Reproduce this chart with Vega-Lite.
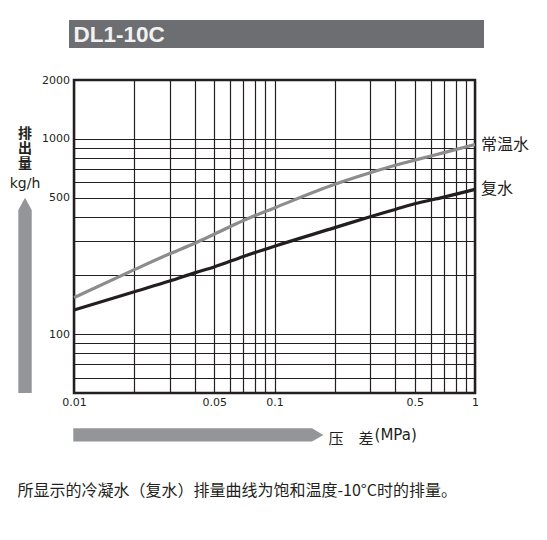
{
  "$schema": "https://vega.github.io/schema/vega-lite/v6.json",
  "width": 401,
  "height": 313,
  "autosize": {"type": "none"},
  "padding": {"left": 74, "top": 80, "right": 72, "bottom": 147},
  "background": "white",
  "data": {
    "values": [
      {"p": 0.01, "q": 154, "s": "常温水"},
      {"p": 0.02, "q": 214, "s": "常温水"},
      {"p": 0.03, "q": 258, "s": "常温水"},
      {"p": 0.04, "q": 292, "s": "常温水"},
      {"p": 0.05, "q": 325, "s": "常温水"},
      {"p": 0.07, "q": 382, "s": "常温水"},
      {"p": 0.1, "q": 443, "s": "常温水"},
      {"p": 0.2, "q": 585, "s": "常温水"},
      {"p": 0.3, "q": 670, "s": "常温水"},
      {"p": 0.4, "q": 732, "s": "常温水"},
      {"p": 0.5, "q": 778, "s": "常温水"},
      {"p": 0.7, "q": 850, "s": "常温水"},
      {"p": 1, "q": 935, "s": "常温水"},
      {"p": 0.01, "q": 133, "s": "复水"},
      {"p": 0.02, "q": 165, "s": "复水"},
      {"p": 0.03, "q": 187, "s": "复水"},
      {"p": 0.04, "q": 206, "s": "复水"},
      {"p": 0.05, "q": 221, "s": "复水"},
      {"p": 0.07, "q": 250, "s": "复水"},
      {"p": 0.1, "q": 282, "s": "复水"},
      {"p": 0.2, "q": 351, "s": "复水"},
      {"p": 0.3, "q": 399, "s": "复水"},
      {"p": 0.4, "q": 435, "s": "复水"},
      {"p": 0.5, "q": 465, "s": "复水"},
      {"p": 0.7, "q": 503, "s": "复水"},
      {"p": 1, "q": 551, "s": "复水"}
    ]
  },
  "layer": [
    {
      "mark": {"type": "line", "strokeWidth": 3.2, "interpolate": "monotone"},
      "encoding": {
        "x": {
          "field": "p",
          "type": "quantitative",
          "scale": {"type": "log", "domain": [0.01, 1], "nice": false},
          "axis": {
            "title": null,
            "values": [0.01, 0.02, 0.03, 0.04, 0.05, 0.06, 0.07, 0.08, 0.09, 0.1, 0.2, 0.3, 0.4, 0.5, 0.6, 0.7, 0.8, 0.9, 1],
            "format": "~g",
            "labelExpr": "datum.value == 0.01 || datum.value == 0.05 || datum.value == 0.1 || datum.value == 0.5 || datum.value == 1 ? datum.label : ''",
            "labelPadding": 3.5
          }
        },
        "y": {
          "field": "q",
          "type": "quantitative",
          "scale": {"type": "log", "domain": [50, 2000], "nice": false},
          "axis": {
            "title": null,
            "values": [50, 60, 70, 80, 90, 100, 200, 300, 400, 500, 600, 700, 800, 900, 1000, 2000],
            "format": "~g",
            "labelExpr": "datum.value == 100 || datum.value == 500 || datum.value == 1000 || datum.value == 2000 ? datum.label : ''",
            "labelPadding": 4.5
          }
        },
        "color": {
          "field": "s",
          "type": "nominal",
          "scale": {"domain": ["常温水", "复水"], "range": ["#8c8c8c", "#231f20"]},
          "legend": null
        }
      }
    },
    {
      "transform": [{"filter": "datum.p == 1"}],
      "mark": {"type": "text", "align": "left", "baseline": "middle", "dx": 6, "font": "Noto Sans CJK SC", "fontSize": 16, "color": "#231f20"},
      "encoding": {
        "x": {"field": "p", "type": "quantitative"},
        "y": {"field": "q", "type": "quantitative"},
        "text": {"field": "s"}
      }
    },
    {
      "data": {"values": [{}]},
      "mark": {"type": "rect", "color": "#6d6e71"},
      "encoding": {
        "x": {"datum": 0.009442, "type": "quantitative"},
        "x2": {"datum": 1.109},
        "y": {"datum": 2916, "type": "quantitative"},
        "y2": {"datum": 4056}
      }
    },
    {
      "data": {"values": [{}]},
      "mark": {"type": "text", "text": "DL1-10C", "align": "left", "baseline": "alphabetic", "font": "Liberation Sans", "fontWeight": "bold", "fontSize": 22.5, "color": "#f2f2f2"},
      "encoding": {
        "x": {"datum": 0.00995, "type": "quantitative"},
        "y": {"datum": 3119, "type": "quantitative"}
      }
    },
    {
      "data": {"values": [{}]},
      "mark": {"type": "point", "shape": "M0,-14.575L1,-12.74L1,14.575L-1,14.575L-1,-12.74Z", "size": 179.56, "filled": true, "opacity": 1, "color": "#939598"},
      "encoding": {
        "x": {"datum": 0.0056976, "type": "quantitative"},
        "y": {"datum": 158.0, "type": "quantitative"}
      }
    },
    {
      "data": {"values": [{}]},
      "mark": {"type": "point", "shape": "M18.8,0L17.1,1L-18.8,1L-18.8,-1L17.1,-1Z", "size": 176.9, "filled": true, "opacity": 1, "color": "#939598"},
      "encoding": {
        "x": {"datum": 0.04169, "type": "quantitative"},
        "y": {"datum": 30.49, "type": "quantitative"}
      }
    },
    {
      "data": {"values": [{}]},
      "mark": {"type": "text", "text": "排\n出\n量", "lineBreak": "\n", "lineHeight": 14.8, "align": "center", "baseline": "top", "font": "Noto Sans CJK SC", "fontWeight": "bold", "fontSize": 14, "color": "#231f20"},
      "encoding": {
        "x": {"datum": 0.0057, "type": "quantitative"},
        "y": {"datum": 1150, "type": "quantitative"}
      }
    },
    {
      "data": {"values": [{}]},
      "mark": {"type": "text", "text": "kg/h", "align": "center", "baseline": "alphabetic", "font": "DejaVu Sans", "fontSize": 14, "color": "#231f20"},
      "encoding": {
        "x": {"datum": 0.0057, "type": "quantitative"},
        "y": {"datum": 556.8, "type": "quantitative"}
      }
    },
    {
      "data": {"values": [{}]},
      "mark": {"type": "text", "text": "压　差", "align": "left", "baseline": "alphabetic", "font": "Noto Sans CJK SC", "fontSize": 15, "color": "#231f20"},
      "encoding": {
        "x": {"datum": 0.18592, "type": "quantitative"},
        "y": {"datum": 27.57, "type": "quantitative"}
      }
    },
    {
      "data": {"values": [{}]},
      "mark": {"type": "text", "text": "(MPa)", "align": "left", "baseline": "alphabetic", "font": "DejaVu Sans", "fontSize": 15, "color": "#231f20"},
      "encoding": {
        "x": {"datum": 0.3155, "type": "quantitative"},
        "y": {"datum": 28.84, "type": "quantitative"}
      }
    },
    {
      "data": {"values": [{}]},
      "mark": {"type": "text", "text": "所显示的冷凝水（复水）排量曲线为饱和温度-10°C时的排量。", "align": "left", "baseline": "alphabetic", "font": "Noto Sans CJK SC", "fontSize": 16, "color": "#231f20"},
      "encoding": {
        "x": {"datum": 0.005226, "type": "quantitative"},
        "y": {"datum": 14.84, "type": "quantitative"}
      }
    }
  ],
  "config": {
    "view": {"stroke": "#231f20", "strokeWidth": 2.5},
    "axis": {
      "grid": true,
      "gridColor": "#231f20",
      "gridWidth": 1.2,
      "gridOpacity": 1,
      "ticks": false,
      "tickSize": 0,
      "domain": false,
      "labelFont": "DejaVu Sans",
      "labelFontSize": 11,
      "labelColor": "#231f20",
      "labelOverlap": false,
      "labelFlush": false
    }
  }
}
